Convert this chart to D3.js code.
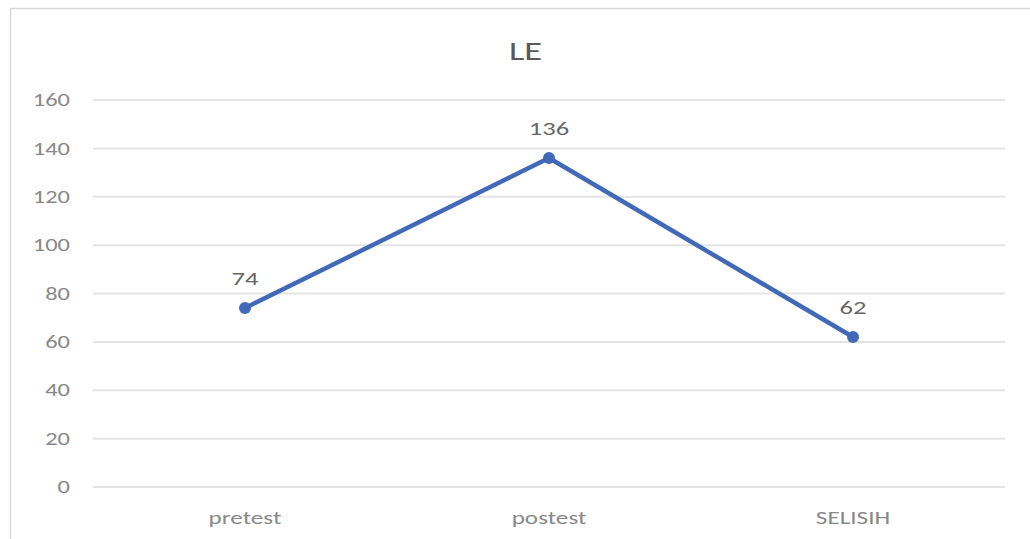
<!DOCTYPE html>
<html>
<head>
<meta charset="utf-8">
<script src="https://cdn.jsdelivr.net/npm/d3@7"></script>
<style>
  body { margin: 0; background: #fff; }
  text { font-family: Carlito, Calibri, "Liberation Sans", sans-serif; }
</style>
</head>
<body>
<svg id="chart" width="1030" height="539"></svg>
<script>
// chart data
const categories = ['pretest', 'postest', 'SELISIH'];
const values = [74, 136, 62];
const yTicks = [0, 20, 40, 60, 80, 100, 120, 140, 160];
const title = 'LE';

const svg = d3.select('#chart');
const STRETCH = 1.4; // the source picture is stretched sideways

// outer chart frame (right edge falls outside the picture)
const frame = { x: 10.5, y: 8.5, w: 1030, h: 540 };
svg.append('rect')
  .attr('x', frame.x).attr('y', frame.y)
  .attr('width', frame.w).attr('height', frame.h)
  .attr('fill', '#fff')
  .attr('stroke', '#d9d9d9')
  .attr('stroke-width', 1.5);

const plot = { left: 93, right: 1005, top: 100, bottom: 487 };

const x = d3.scaleBand()
  .domain(categories)
  .range([plot.left, plot.right]);

const y = d3.scaleLinear()
  .domain([0, 160])
  .range([plot.bottom, plot.top]);

const cx = c => x(c) + x.bandwidth() / 2;

// text placed at (tx, ty) and stretched horizontally
function label(sel, tx, ty) {
  sel.attr('transform', d => `translate(${tx(d)},${ty(d)}) scale(${STRETCH},1)`)
    .attr('dy', '0.35em');
}

// gridlines
svg.append('g')
  .selectAll('line')
  .data(yTicks)
  .join('line')
  .attr('x1', plot.left).attr('x2', plot.right)
  .attr('y1', d => y(d))
  .attr('y2', d => y(d))
  .attr('stroke', '#e4e4e4')
  .attr('stroke-width', 2);

// y tick labels
svg.append('g')
  .selectAll('text')
  .data(yTicks)
  .join('text')
  .call(label, () => 70, d => y(d))
  .attr('text-anchor', 'end')
  .style('font-size', '17.5px')
  .style('fill', '#888')
  .text(d => d);

// category labels
svg.append('g')
  .selectAll('text')
  .data(categories)
  .join('text')
  .call(label, d => cx(d), () => 518)
  .attr('text-anchor', 'middle')
  .style('font-size', '18px')
  .style('fill', '#888')
  .text(d => d);

// title, centred on the whole chart frame
svg.append('text')
  .datum(title)
  .call(label, () => frame.x + frame.w / 2, () => 51)
  .attr('text-anchor', 'middle')
  .style('font-size', '26px')
  .style('fill', '#595959')
  .text(d => d);

const pts = categories.map((c, i) => ({ c, v: values[i] }));

// series line
svg.append('path')
  .datum(pts)
  .attr('fill', 'none')
  .attr('stroke', '#4169b8')
  .attr('stroke-width', 4.5)
  .attr('stroke-linejoin', 'round')
  .attr('d', d3.line()
    .x(d => cx(d.c))
    .y(d => y(d.v)));

// markers
svg.append('g')
  .selectAll('circle')
  .data(pts)
  .join('circle')
  .attr('cx', d => cx(d.c))
  .attr('cy', d => y(d.v))
  .attr('r', 6)
  .attr('fill', '#4169b8');

// data labels
svg.append('g')
  .selectAll('text')
  .data(pts)
  .join('text')
  .call(label, d => cx(d.c), d => y(d.v) - 30)
  .attr('text-anchor', 'middle')
  .style('font-size', '19px')
  .style('fill', '#666')
  .text(d => d.v);
</script>
</body>
</html>
